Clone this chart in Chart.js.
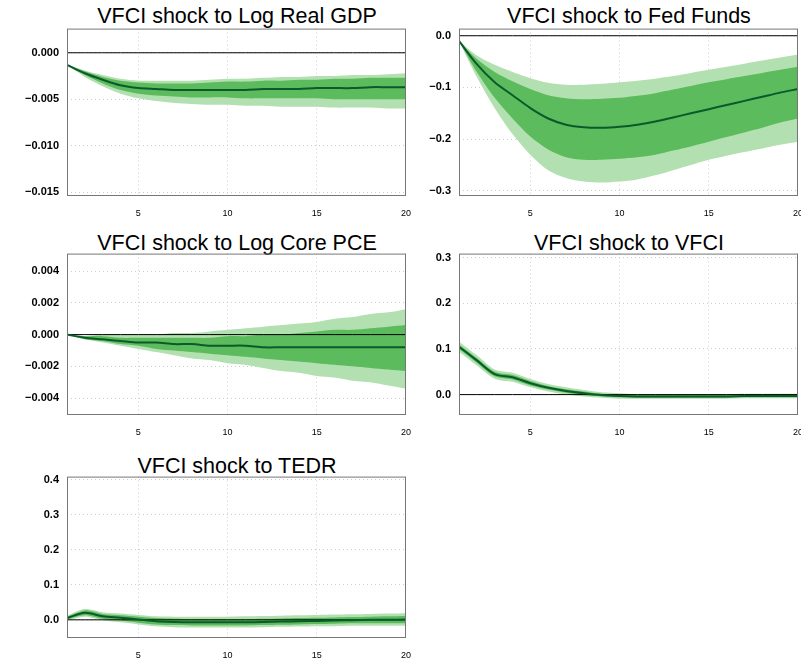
<!DOCTYPE html>
<html>
<head>
<meta charset="utf-8">
<script src="https://cdn.jsdelivr.net/npm/chart.js@4.4.0/dist/chart.umd.min.js"></script>
<style>
  body { margin: 0; background: #fff; width: 801px; height: 667px; overflow: hidden; position: relative; font-family: "Liberation Sans", Arial, sans-serif; }
  canvas { position: absolute; }
  .title { position: absolute; width: 340px; text-align: center; font-size: 21.5px; color: #000; }
</style>
</head>
<body>
<div class="title" style="left:67px;top:4px">VFCI shock to Log Real GDP</div>
<div class="title" style="left:459px;top:4px">VFCI shock to Fed Funds</div>
<div class="title" style="left:67px;top:231px">VFCI shock to Log Core PCE</div>
<div class="title" style="left:459px;top:231px">VFCI shock to VFCI</div>
<div class="title" style="left:67px;top:454px">VFCI shock to TEDR</div>
<canvas id="c1" style="left:0;top:14px" width="424" height="203"></canvas>
<canvas id="c2" style="left:392px;top:14px" width="424" height="203"></canvas>
<canvas id="c3" style="left:0;top:239px" width="424" height="197"></canvas>
<canvas id="c4" style="left:392px;top:239px" width="424" height="197"></canvas>
<canvas id="c5" style="left:0;top:462px" width="424" height="197"></canvas>
<script>
const horizon = [1,2,3,4,5,6,7,8,9,10,11,12,13,14,15,16,17,18,19,20];

const gdpMean = [-0.0013,-0.0022,-0.0029,-0.0035,-0.0038,-0.0039,-0.0040,-0.0040,-0.0040,-0.0040,-0.0040,-0.0039,-0.0039,-0.0039,-0.0038,-0.0038,-0.0038,-0.0037,-0.0037,-0.0037];
const gdpInLo = [-0.0013,-0.0024,-0.0033,-0.0040,-0.0044,-0.0046,-0.0047,-0.0048,-0.0048,-0.0048,-0.0049,-0.0049,-0.0049,-0.0049,-0.0049,-0.0050,-0.0050,-0.0050,-0.0050,-0.0050];
const gdpInHi = [-0.0013,-0.0020,-0.0026,-0.0030,-0.0032,-0.0033,-0.0033,-0.0033,-0.0032,-0.0031,-0.0031,-0.0030,-0.0030,-0.0029,-0.0029,-0.0028,-0.0028,-0.0027,-0.0027,-0.0027];
const gdpOutLo = [-0.0013,-0.0026,-0.0036,-0.0044,-0.0049,-0.0052,-0.0054,-0.0055,-0.0056,-0.0056,-0.0057,-0.0057,-0.0058,-0.0058,-0.0058,-0.0059,-0.0059,-0.0059,-0.0060,-0.0060];
const gdpOutHi = [-0.0013,-0.0019,-0.0024,-0.0028,-0.0030,-0.0030,-0.0030,-0.0030,-0.0029,-0.0028,-0.0028,-0.0027,-0.0026,-0.0026,-0.0025,-0.0025,-0.0024,-0.0024,-0.0023,-0.0022];

const ffMean = [-0.01,-0.055,-0.09,-0.115,-0.14,-0.16,-0.172,-0.177,-0.178,-0.176,-0.172,-0.166,-0.158,-0.15,-0.142,-0.134,-0.126,-0.118,-0.11,-0.103];
const ffInLo = [-0.01,-0.07,-0.12,-0.16,-0.195,-0.22,-0.235,-0.24,-0.24,-0.238,-0.235,-0.23,-0.222,-0.214,-0.205,-0.196,-0.187,-0.178,-0.168,-0.16];
const ffInHi = [-0.01,-0.045,-0.07,-0.088,-0.103,-0.115,-0.121,-0.123,-0.122,-0.12,-0.116,-0.111,-0.104,-0.097,-0.09,-0.084,-0.078,-0.072,-0.066,-0.06];
const ffOutLo = [-0.01,-0.08,-0.14,-0.19,-0.23,-0.26,-0.275,-0.282,-0.284,-0.282,-0.278,-0.27,-0.26,-0.25,-0.24,-0.232,-0.225,-0.218,-0.211,-0.205];
const ffOutHi = [-0.01,-0.038,-0.056,-0.07,-0.082,-0.091,-0.095,-0.095,-0.093,-0.09,-0.087,-0.083,-0.078,-0.072,-0.066,-0.06,-0.054,-0.048,-0.042,-0.037];

const pceMean = [0,-0.0002,-0.0003,-0.0004,-0.0005,-0.0005,-0.0006,-0.0006,-0.0007,-0.0007,-0.0007,-0.0008,-0.0008,-0.0008,-0.0008,-0.0008,-0.0008,-0.0008,-0.0008,-0.0008];
const pceInLo = [0,-0.0003,-0.0004,-0.0006,-0.0007,-0.0009,-0.0010,-0.0011,-0.0012,-0.0013,-0.0014,-0.0015,-0.0016,-0.0017,-0.0018,-0.0019,-0.0020,-0.0021,-0.0022,-0.0023];
const pceInHi = [0,-0.0001,-0.0001,-0.0002,-0.0002,-0.0002,-0.0002,-0.0002,-0.0002,-0.0001,-0.0001,0,0,0.0001,0.0002,0.0003,0.0003,0.0004,0.0005,0.0006];
const pceOutLo = [0,-0.0003,-0.0005,-0.0007,-0.0009,-0.0011,-0.0013,-0.0015,-0.0016,-0.0018,-0.0019,-0.0021,-0.0023,-0.0024,-0.0026,-0.0027,-0.0029,-0.0030,-0.0032,-0.0034];
const pceOutHi = [0,-0.0001,0,0,0,0,0.0001,0.0001,0.0002,0.0003,0.0004,0.0005,0.0006,0.0007,0.0008,0.0010,0.0011,0.0013,0.0014,0.0016];

const vfciMean = [0.105,0.075,0.045,0.038,0.025,0.015,0.008,0.003,-0.001,-0.003,-0.004,-0.004,-0.004,-0.004,-0.004,-0.004,-0.003,-0.003,-0.003,-0.003];
const vfciInLo = [0.100,0.070,0.040,0.033,0.020,0.011,0.004,-0.001,-0.004,-0.006,-0.007,-0.007,-0.007,-0.007,-0.007,-0.007,-0.006,-0.006,-0.006,-0.006];
const vfciInHi = [0.110,0.080,0.050,0.043,0.030,0.019,0.012,0.007,0.002,0.000,-0.001,-0.001,-0.001,-0.001,-0.001,-0.001,0.000,0.000,0.000,0.000];
const vfciOutLo = [0.094,0.064,0.035,0.028,0.016,0.007,0.000,-0.004,-0.007,-0.009,-0.009,-0.009,-0.009,-0.009,-0.009,-0.009,-0.008,-0.008,-0.008,-0.008];
const vfciOutHi = [0.116,0.086,0.055,0.048,0.034,0.023,0.016,0.010,0.005,0.003,0.001,0.001,0.001,0.001,0.001,0.001,0.002,0.002,0.002,0.002];

const tedMean = [0.005,0.02,0.01,0.006,0.001,-0.004,-0.006,-0.007,-0.007,-0.007,-0.007,-0.006,-0.005,-0.004,-0.003,-0.002,-0.001,0,0,0.001];
const tedInLo = [0.001,0.013,0.003,-0.002,-0.008,-0.013,-0.015,-0.016,-0.016,-0.016,-0.016,-0.015,-0.014,-0.013,-0.012,-0.011,-0.010,-0.010,-0.010,-0.010];
const tedInHi = [0.009,0.027,0.017,0.013,0.009,0.005,0.003,0.002,0.002,0.002,0.002,0.003,0.004,0.005,0.006,0.007,0.008,0.009,0.010,0.011];
const tedOutLo = [-0.002,0.009,-0.001,-0.007,-0.013,-0.018,-0.021,-0.022,-0.022,-0.022,-0.022,-0.021,-0.020,-0.019,-0.018,-0.018,-0.017,-0.017,-0.017,-0.017];
const tedOutHi = [0.012,0.031,0.022,0.018,0.014,0.010,0.009,0.009,0.009,0.009,0.010,0.011,0.012,0.013,0.014,0.015,0.016,0.017,0.018,0.019];

const xTicks = [5, 10, 15, 20];

function pts(arr) {
    return arr.map((v, i) => ({ x: horizon[i], y: v }));
}

const frame = {
    id: 'frame',
    afterDraw(chart) {
        const a = chart.chartArea, ctx = chart.ctx;
        ctx.save();
        ctx.strokeStyle = '#777';
        ctx.lineWidth = 1;
        ctx.strokeRect(a.left + 0.5, a.top + 0.5, a.right - a.left - 1, a.bottom - a.top);
        ctx.restore();
    }
};

function makeChart(id, mean, inLo, inHi, outLo, outHi, yMin, yMax, yTicks, digits) {
    const zero = horizon.map(() => 0);
    // higher order is drawn first (underneath)
    const band = (arr, target, color, order) => ({
        data: pts(arr), borderWidth: 0, borderColor: 'rgba(0,0,0,0)', pointRadius: 0,
        fill: target, backgroundColor: color, tension: 0.3, order: order
    });
    new Chart(document.getElementById(id), {
        type: 'line',
        data: {
            datasets: [
                band(outLo, false, 'rgba(0,0,0,0)', 6),
                band(outHi, 0, '#b3e0b0', 5),
                band(inLo, false, 'rgba(0,0,0,0)', 4),
                band(inHi, 2, '#5cbb5c', 3),
                { data: pts(mean), borderColor: '#0b5a2c', borderWidth: 2, pointRadius: 0, fill: false, tension: 0.3, order: 1 },
                { data: pts(zero), borderColor: '#000', borderWidth: 1, pointRadius: 0, fill: false, order: 2 }
            ]
        },
        options: {
            responsive: false,
            animation: false,
            layout: { padding: { top: 2, right: 5, left: 0, bottom: 0 } },
            plugins: { legend: { display: false }, tooltip: { enabled: false } },
            scales: {
                x: {
                    type: 'linear', min: 1, max: 20,
                    afterBuildTicks: s => { s.ticks = xTicks.map(v => ({ value: v })); },
                    afterFit: s => { s.height = 22; },
                    grid: { color: '#ccc', drawTicks: false },
                    border: { display: false, dash: [1, 3] },
                    ticks: { color: '#000', font: { size: 9, family: 'Liberation Sans' }, padding: 13, maxRotation: 0 }
                },
                y: {
                    min: yMin, max: yMax,
                    afterBuildTicks: s => { s.ticks = yTicks.map(v => ({ value: v })); },
                    afterFit: s => { s.width = 67; },
                    grid: { color: '#ccc', drawTicks: false },
                    border: { display: false, dash: [1, 3] },
                    ticks: {
                        color: '#000', padding: 8,
                        font: { size: 11, weight: 'bold', family: 'Liberation Sans' },
                        callback: v => v.toFixed(digits).replace('-', '\u2212')
                    }
                }
            }
        },
        plugins: [frame]
    });
}

makeChart('c1', gdpMean, gdpInLo, gdpInHi, gdpOutLo, gdpOutHi, -0.0153, 0.0026, [0, -0.005, -0.01, -0.015], 3);
makeChart('c2', ffMean, ffInLo, ffInHi, ffOutLo, ffOutHi, -0.308, 0.0138, [0, -0.1, -0.2, -0.3], 1);
makeChart('c3', pceMean, pceInLo, pceInHi, pceOutLo, pceOutHi, -0.0050, 0.0051, [0.004, 0.002, 0, -0.002, -0.004], 3);
makeChart('c4', vfciMean, vfciInLo, vfciInHi, vfciOutLo, vfciOutHi, -0.0425, 0.309, [0.3, 0.2, 0.1, 0], 1);
makeChart('c5', tedMean, tedInLo, tedInHi, tedOutLo, tedOutHi, -0.049, 0.409, [0.4, 0.3, 0.2, 0.1, 0], 1);
</script>
</body>
</html>
